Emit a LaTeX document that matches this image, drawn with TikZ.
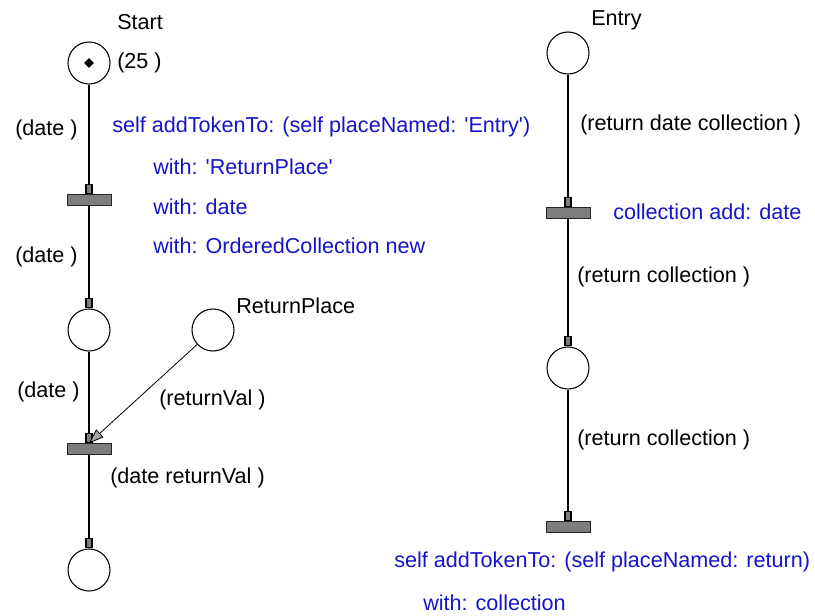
\documentclass[tikz,border=0pt]{standalone}
\usepackage{fontspec}
\setmainfont{Liberation Sans}
\usetikzlibrary{arrows.meta,shapes.geometric}
\definecolor{codeblue}{RGB}{20,20,200}
\definecolor{transgray}{RGB}{125,125,125}
\tikzset{
  place/.style={circle, draw=black, line width=0.8pt, minimum size=31.5pt, inner sep=0pt},
  trans/.style={rectangle, draw=black!85, fill=transgray, line width=0.7pt, minimum width=33pt, minimum height=8pt, inner sep=0pt},
  lbl/.style={anchor=west, inner sep=0pt, font=\fontsize{16.2}{18}\selectfont},
  code/.style={lbl, text=codeblue},
  arc/.style={line width=0.9pt, -{Rectangle[length=8pt,width=5.5pt,fill=transgray]}},
  diagarc/.style={line width=0.6pt, -{Triangle[length=11pt,width=8pt,fill=transgray!70]}},
}
\begin{document}
\begin{tikzpicture}[x=0.75pt,y=-0.75pt]
\useasboundingbox (0,0) rectangle (815,615);
% left column
\node[place] (start) at (89,63) {};
\node[diamond, fill=black, inner sep=0pt, minimum size=7.5pt] (tok) at (89,63) {};
\node[trans] (t1) at (89,200) {};
\node[place] (p2) at (89,330) {};
\node[place] (ret) at (213,330) {};
\node[trans] (t2) at (89,449) {};
\node[place] (p3) at (89,570) {};
% right column
\node[place] (entry) at (568,53) {};
\node[trans] (t3) at (568,213) {};
\node[place] (p4) at (568,368) {};
\node[trans] (t4) at (568,527) {};
% arcs
\draw[arc] (start) -- (t1);
\draw[arc] (t1) -- (p2);
\draw[arc] (p2) -- (t2);
\draw[diagarc] (ret) -- (t2.north);
\draw[arc] (t2) -- (p3);
\draw[arc] (entry) -- (t3);
\draw[arc] (t3) -- (p4);
\draw[arc] (p4) -- (t4);
% labels
\node[lbl] (lstart) at (117,22) {Start};
\node[lbl] (l25) at (117,63) {(25 )};
\node[lbl] (ld1) at (15,130) {(date )};
\node[code] (c1) at (112,127) {self addTokenTo: (self placeNamed: \textquotesingle Entry\textquotesingle)};
\node[code] (c2) at (153,167) {with: \textquotesingle ReturnPlace\textquotesingle};
\node[code] (c3) at (153,207) {with: date};
\node[code] (c4) at (153,246) {with: OrderedCollection new};
\node[lbl] (ld2) at (15,257) {(date )};
\node[lbl] (lret) at (236,306) {ReturnPlace};
\node[lbl] (ld3) at (17,392) {(date )};
\node[lbl] (lrv) at (159,400) {(returnVal )};
\node[lbl] (ldr) at (110,478) {(date returnVal )};
\node[lbl] (lentry) at (591,20) {Entry};
\node[lbl] (lrdc) at (580,125) {(return date collection )};
\node[code] (c5) at (613,212) {collection add: date};
\node[lbl] (lrc1) at (577,277) {(return collection )};
\node[lbl] (lrc2) at (577,440) {(return collection )};
\node[code] (c6) at (394,562) {self addTokenTo: (self placeNamed: return)};
\node[code] (c7) at (423,603) {with: collection};
\end{tikzpicture}
\end{document}
